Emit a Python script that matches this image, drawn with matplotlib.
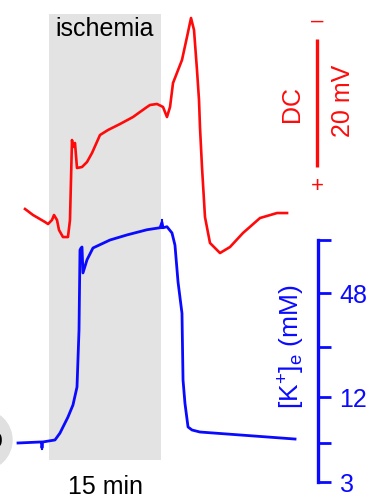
import numpy as np
import matplotlib
matplotlib.use("Agg")
import matplotlib.pyplot as plt
from matplotlib.patches import Ellipse
from matplotlib.ticker import FixedLocator, FixedFormatter, NullLocator

plt.rcParams['font.family'] = ['Liberation Sans', 'DejaVu Sans']
plt.rcParams['mathtext.fontset'] = 'custom'
plt.rcParams['mathtext.rm'] = 'Liberation Sans'
plt.rcParams['mathtext.it'] = 'Liberation Sans:italic'

RED = '#ff0a0a'
BLUE = '#0a0aff'
FS = 18

# ischemia window, minutes
isch_start, isch_end = 0.0, 15.0

# DC potential (mV, negative shift drawn upward)
dc_t = [-3.21, -2.14, -0.54, -0.13, 0.40, 0.67, 1.07, 1.34, 1.87, 2.54, 2.81,
        3.08, 3.21, 3.48, 3.75, 4.42, 5.09, 5.76, 6.83, 7.90, 9.51, 11.25,
        12.19, 13.13, 13.53, 14.46, 15.27, 15.80, 16.21, 16.61, 17.81, 18.48,
        19.02, 19.42, 19.82, 20.09, 20.22, 20.49, 20.89, 21.56, 22.90, 24.24,
        25.98, 28.26, 30.54, 31.88]
dc_mv = [-0.47, 0.47, 1.56, 1.88, 1.25, 0.47, 1.25, 2.81, 3.91, 3.91, 1.25,
         -11.25, -10.16, -10.78, -6.88, -7.03, -7.81, -9.22, -12.03, -12.81,
         -13.75, -14.84, -15.63, -16.41, -16.72, -16.88, -16.41, -14.84,
         -16.41, -20.16, -23.75, -27.34, -30.31, -28.44, -22.19, -17.5,
         -13.28, -7.03, 0.78, 4.84, 6.41, 5.47, 3.28, 0.94, 0.16, 0.16]

# extracellular K+ (mM)
k_t = [-4.15, -1.21, -1.00, -0.94, -0.87, 0.80, 1.47, 2.54, 3.21, 3.75, 4.02,
       4.15, 4.29, 4.42, 4.55, 5.09, 5.89, 8.17, 10.45, 13.13, 14.87, 15.13,
       15.27, 15.80, 16.47, 16.87, 17.28, 17.81, 17.95, 18.21, 18.62, 19.15,
       20.22, 32.95]
k_mm = [6.0, 6.09, 6.09, 5.49, 6.09, 6.28, 6.97, 8.87, 10.64, 13.78, 29.9,
        84.2, 86.5, 87.6, 62.4, 74.1, 86.5, 96.0, 102.6, 109.8, 112.7, 121.0,
        112.7, 114.2, 105.3, 89.8, 55.5, 37.0, 15.2, 10.9, 7.64, 7.30, 7.08,
        6.37]

# K+ electrode axis (ticks, labels and where each sits on the calibration)
k_ticks = [3, 6, 12, 24, 48, 96]
k_labels = ['3', '', '12', '', '48', '']
k_cal_log2 = [-5.0, 1.585, 2.585, 3.585, 4.585, 5.585, 6.585, 12.0]
k_cal_pos = [-239, 18, 57, 103, 153, 207, 260, 547]

# DC scale bar
bar_mv = 20
bar_base = -7.0


def k_fwd(v):
    v = np.clip(np.asarray(v, dtype=float), 1e-6, None)
    return np.interp(np.log2(v), k_cal_log2, k_cal_pos)


def k_inv(u):
    return 2.0 ** np.interp(u, k_cal_pos, k_cal_log2)


fig = plt.figure(figsize=(3.8, 5.0), dpi=100)
ax = fig.add_axes([0, 0, 1, 1])
px = 7.4667  # px per minute
ax.set_xlim(-49 / px, (380 - 49) / px)
ax.set_ylim(45, -33.125)
ax.axis('off')

ax.axvspan(isch_start, isch_end, ymin=0.08, ymax=0.972, color='#e3e3e3', lw=0, zorder=0)
ax.text((isch_start + isch_end) / 2, -28.6, 'ischemia', ha='center', va='center', fontsize=FS)
ax.text((isch_start + isch_end) / 2, 43.0, '15 min', ha='center', va='center', fontsize=FS)

ax.plot(dc_t, dc_mv, color=RED, lw=1.9, solid_joinstyle='round', zorder=3)

# DC scale bar
bar_t = 35.9
ax.plot([bar_t, bar_t], [bar_base, bar_base - bar_mv], color=RED, lw=2.4, solid_capstyle='butt')
ax.text(bar_t, -29.8, '\u2013', color=RED, ha='center', va='center', fontsize=16)
ax.text(bar_t, -4.0, '+', color=RED, ha='center', va='center', fontsize=16)
ax.text(32.6, -16.9, 'DC', color=RED, rotation=90, ha='center', va='center', fontsize=FS)
ax.text(39.4, -17.3, '20 mV', color=RED, rotation=90, ha='center', va='center', fontsize=FS)

# K+ trace on its own axis
ax2 = ax.twinx()
ax2.set_yscale('function', functions=(k_fwd, k_inv))
ax2.set_ylim(k_inv(0), k_inv(500))
ax2.plot(k_t, k_mm, color=BLUE, lw=2.0, solid_joinstyle='round', zorder=3)
# small marks on the trace
ax2.plot([-1.0, -1.0], [6.09, 5.4], color=BLUE, lw=1.5)
ax2.plot([15.13, 15.13], [112.0, 124.0], color=BLUE, lw=1.5)

for s in ['top', 'bottom', 'left']:
    ax2.spines[s].set_visible(False)
ax2.xaxis.set_visible(False)
ax2.spines['right'].set_position(('data', 36.03))
ax2.spines['right'].set_bounds(3, 96)
ax2.spines['right'].set_color(BLUE)
ax2.spines['right'].set_linewidth(2.4)
ax2.yaxis.set_major_locator(FixedLocator(k_ticks))
ax2.yaxis.set_major_formatter(FixedFormatter(k_labels))
ax2.yaxis.set_minor_locator(NullLocator())
ax2.tick_params(axis='y', colors=BLUE, direction='out', length=9.5, width=2.0,
                pad=6, labelsize=FS)
ax2.text(32.5, 24, r'[K$^{+}$]$_{\mathrm{e}}$ (mM)', color=BLUE, rotation=90,
         ha='center', va='center', fontsize=19)

# cropped panel badge at the left edge
fig.patches.append(Ellipse((-18 / 380, 1 - 440 / 500), 60 / 380, 60 / 500,
                           transform=fig.transFigure, color='#e0e0e0', zorder=0))
fig.text(-5 / 380, 1 - 440 / 500, 'b', ha='center', va='center', fontsize=FS)

fig.savefig('out.png', dpi=100)
